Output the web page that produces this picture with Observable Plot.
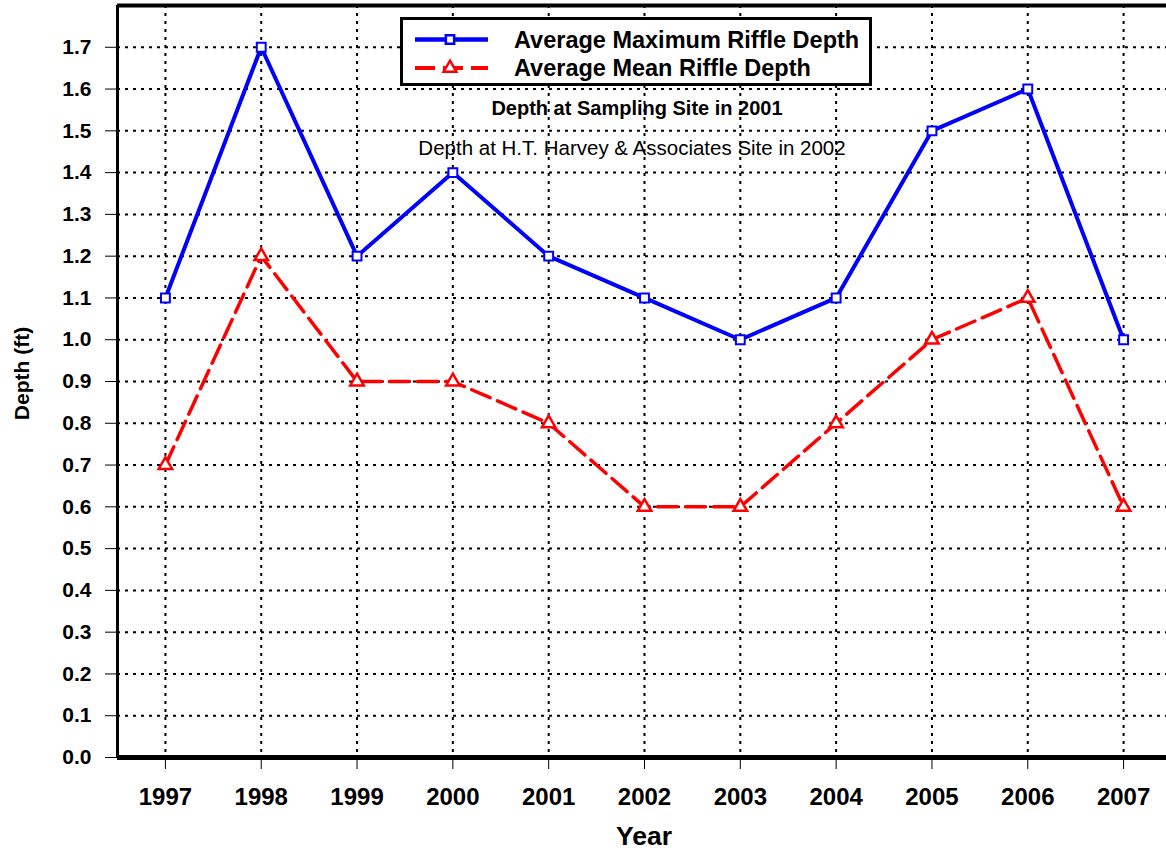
<!DOCTYPE html>
<html>
<head>
<meta charset="utf-8">
<script src="https://cdn.jsdelivr.net/npm/d3@7"></script>
<script src="https://cdn.jsdelivr.net/npm/@observablehq/plot@0.6"></script>
<style>
  html, body { margin: 0; padding: 0; background: #fff; }
  #wrap { position: relative; width: 1166px; height: 855px; overflow: hidden; font-family: "Liberation Sans", Arial, sans-serif; }
  #legend { position: absolute; left: 400px; top: 17px; width: 466px; height: 63px; border: 3px solid #000; background: #fff; }
</style>
</head>
<body>
<div id="wrap"></div>
<script>
const years = [1997, 1998, 1999, 2000, 2001, 2002, 2003, 2004, 2005, 2006, 2007];
const maxDepth = [1.1, 1.7, 1.2, 1.4, 1.2, 1.1, 1.0, 1.1, 1.5, 1.6, 1.0];
const meanDepth = [0.7, 1.2, 0.9, 0.9, 0.8, 0.6, 0.6, 0.8, 1.0, 1.1, 0.6];
const yTicks = [0.0, 0.1, 0.2, 0.3, 0.4, 0.5, 0.6, 0.7, 0.8, 0.9, 1.0, 1.1, 1.2, 1.3, 1.4, 1.5, 1.6, 1.7];
const seriesNames = ["Average Maximum Riffle Depth", "Average Mean Riffle Depth"];
const notes = ["Depth at Sampling Site in 2001", "Depth at H.T. Harvey & Associates Site in 2002"];
const xLabel = "Year";
const yLabel = "Depth (ft)";
const xDomain = [1996.5, 2007.5];
const yDomain = [0, 1.8];

const maxData = years.map((y, i) => ({year: y, depth: maxDepth[i]}));
const meanData = years.map((y, i) => ({year: y, depth: meanDepth[i]}));

const font = "Liberation Sans, Arial, sans-serif";
const blue = "#0000ff", red = "#ff0000";

const chart = Plot.plot({
  width: 1166,
  height: 855,
  marginLeft: 117,
  marginRight: 0,
  marginTop: 5,
  marginBottom: 98,
  style: {fontFamily: font, background: "#fff", overflow: "visible"},
  x: {domain: xDomain, range: [117, 1171]},
  y: {domain: yDomain},
  marks: [
    Plot.ruleY(yTicks.slice(1), {stroke: "#000", strokeWidth: 2, strokeDasharray: "3,5"}),
    Plot.ruleX(years, {stroke: "#000", strokeWidth: 2, strokeDasharray: "3,5"}),
    Plot.axisY({ticks: yTicks, tickFormat: d => d.toFixed(1), tickSize: 12, tickPadding: 14, tickStrokeWidth: 2,
      fontSize: 21, fontWeight: "bold", fill: "#000", label: null}),
    Plot.axisX({ticks: years, tickFormat: d => String(d), tickSize: 12, tickPadding: 18, tickStrokeWidth: 2,
      fontSize: 24, fontWeight: "bold", fill: "#000", label: null}),
    Plot.ruleX([xDomain[0]], {stroke: "#000", strokeWidth: 3}),
    Plot.ruleY([yDomain[0]], {stroke: "#000", strokeWidth: 5}),
    Plot.ruleY([yDomain[1]], {stroke: "#000", strokeWidth: 4}),
    Plot.line(meanData, {x: "year", y: "depth", stroke: red, strokeWidth: 3.5, strokeDasharray: "20,8"}),
    Plot.line(maxData, {x: "year", y: "depth", stroke: blue, strokeWidth: 4}),
    Plot.dot(meanData, {x: "year", y: "depth", symbol: "triangle", r: 5, stroke: red, strokeWidth: 2.5, fill: "#fff"}),
    Plot.dot(maxData, {x: "year", y: "depth", symbol: "square", r: 5, stroke: blue, strokeWidth: 2, fill: "#fff"}),
    Plot.text([notes[0]], {frameAnchor: "top", lineAnchor: "middle", dx: -5, dy: 103, fontSize: 20, fontWeight: "bold", fill: "#000"}),
    Plot.text([notes[1]], {frameAnchor: "top", lineAnchor: "middle", dx: -10, dy: 143, fontSize: 20.5, fill: "#000"}),
    Plot.text([yLabel], {frameAnchor: "left", textAnchor: "middle", lineAnchor: "middle", dx: -95, dy: -8, rotate: -90, fontSize: 21, fontWeight: "bold", fill: "#000"}),
    Plot.text([xLabel], {frameAnchor: "bottom", lineAnchor: "middle", dx: 2, dy: 79, fontSize: 26.5, fontWeight: "bold", fill: "#000"})
  ]
});

const wrap = document.getElementById("wrap");
wrap.appendChild(chart);

// legend
const legend = document.createElement("div");
legend.id = "legend";
wrap.appendChild(legend);
const lsvg = d3.select(legend).append("svg").attr("width", 466).attr("height", 63);
const rows = [
  {name: seriesNames[0], color: blue, dash: null, symbol: d3.symbolSquare, y: 19.5},
  {name: seriesNames[1], color: red, dash: "20,8", symbol: d3.symbolTriangle, y: 48}
];
rows.forEach(r => {
  lsvg.append("line").attr("x1", 12).attr("x2", 85).attr("y1", r.y).attr("y2", r.y)
    .attr("stroke", r.color).attr("stroke-width", r.dash ? 4 : 4.5).attr("stroke-dasharray", r.dash);
  lsvg.append("path").attr("d", d3.symbol(r.symbol, 70)()).attr("transform", `translate(47,${r.y})`)
    .attr("fill", "#fff").attr("stroke", r.color).attr("stroke-width", 2.5);
  lsvg.append("text").attr("x", 111).attr("y", r.y).attr("dy", "0.35em")
    .attr("font-family", font).attr("font-size", 23.5).attr("font-weight", "bold").text(r.name);
});
</script>
</body>
</html>
